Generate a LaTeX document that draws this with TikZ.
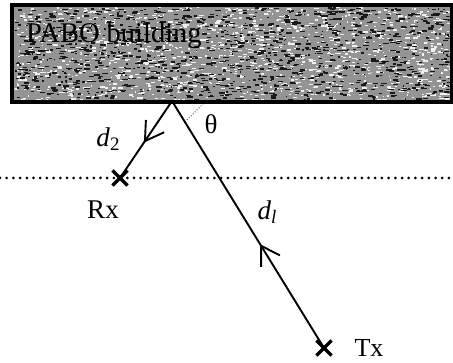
\documentclass[tikz,border=0pt]{standalone}
\usepackage{fontspec}
\setmainfont{Liberation Serif}
\usetikzlibrary{arrows.meta,decorations.markings,shapes.misc,calc}
\tikzset{
  lbl/.style={inner sep=0pt, font=\fontsize{27}{30}\selectfont},
  ray/.style={line width=1.9pt},
  crossmark/.style={cross out, draw, line width=3.2pt, minimum size=12pt, inner sep=0pt},
  midarrow/.style={postaction={decorate}, decoration={markings,
     mark=at position #1 with {\arrow{Straight Barb[length=18pt,width=22pt,line width=1.9pt]}}}},
  building/.style={draw, line width=2.8pt, fill=black!42, minimum width=438pt, minimum height=95pt, inner sep=0pt},
}
\begin{document}
\begin{tikzpicture}[x=1pt,y=-1pt]
\useasboundingbox (0,0) rectangle (453,363);
% building
\node[building] (bld) at (232,53.5) {};
\begin{scope}
\clip (14.5,7.5) rectangle (449.5,99.5);
\pgfmathsetseed{11}
\foreach \i in {1,...,1400}{
  \pgfmathsetmacro\xx{14+436*rnd}
  \pgfmathsetmacro\yy{7+93*rnd}
  \pgfmathsetmacro\ww{1+4*rnd}
  \fill[white!88!gray] (\xx,\yy) rectangle ++(\ww,1.3);
}
\foreach \i in {1,...,1300}{
  \pgfmathsetmacro\xx{14+436*rnd}
  \pgfmathsetmacro\yy{7+93*rnd}
  \pgfmathsetmacro\ww{1+5*rnd}
  \fill[black!90] (\xx,\yy) rectangle ++(\ww,1.4);
}
\end{scope}
\draw[line width=2.8pt] (bld.south west) rectangle (bld.north east);
\node[lbl, font=\fontsize{28.5}{32}\selectfont, anchor=west] (name) at (26,36) {PABO building};
% ground line
\coordinate (gl) at (0,178);
\coordinate (gr) at (453,178);
\draw[line width=3pt, line cap=round, dash pattern=on 0pt off 6.7pt] (gl) -- (gr);
% points
\coordinate (B) at (172,101);
\node[crossmark] (rx) at (120,178) {};
\node[crossmark] (tx) at (324,348) {};
% rays
\draw[ray, midarrow=0.54] (B) -- (rx.center);
\draw[ray, midarrow=0.42] (tx.center) -- (B);
% angle marker
\coordinate (th1) at ($(B)!0.085!(tx.center)$);
\coordinate (th2) at (206,101);
\draw[line width=0.8pt, dotted] (th1) -- (th2);
% labels
\node[lbl] (theta) at (211,124) {θ};
\node[lbl] (d2) at (108,139) {\textit{d}\raisebox{-0.3ex}{\fontsize{19}{20}\selectfont 2}};
\node[lbl] (d1) at (267,212) {\textit{d}\raisebox{-0.3ex}{\fontsize{19}{20}\selectfont\textit{l}}};
\node[lbl] (rxl) at (103,210) {Rx};
\node[lbl, font=\fontsize{26}{28}\selectfont] (txl) at (369,348) {Tx};
\end{tikzpicture}
\end{document}
